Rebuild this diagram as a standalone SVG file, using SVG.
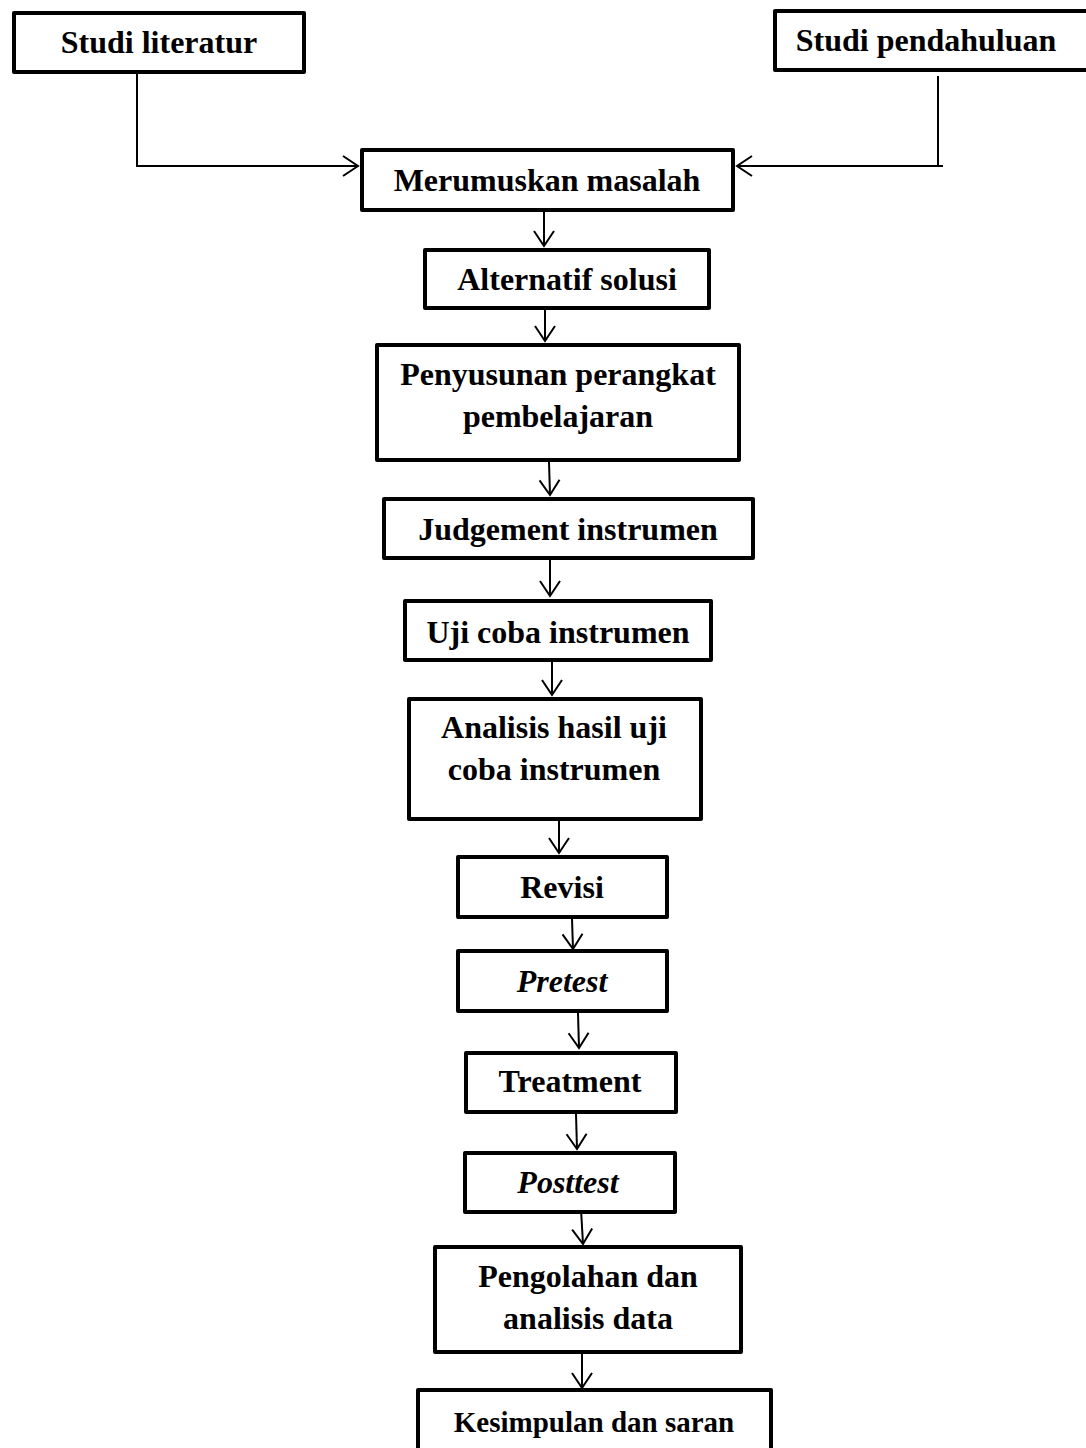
<svg xmlns="http://www.w3.org/2000/svg" width="1086" height="1448" viewBox="0 0 1086 1448">
<style>
.box{fill:#fff;stroke:#000;stroke-width:4;stroke-linejoin:round}
.t{font-family:"Liberation Serif","Times New Roman",serif;font-weight:bold;font-size:32px;text-anchor:middle;fill:#000}
.it{font-style:italic}
.sm{font-size:29px}
.c{fill:none;stroke:#000;stroke-width:2}
</style>
<defs>
<marker id="arr" markerUnits="userSpaceOnUse" viewBox="-17 -12 19 24" refX="0" refY="0" markerWidth="19" markerHeight="24" orient="auto" overflow="visible">
<path d="M-15,-10 L0,0 L-15,10" fill="none" stroke="#000" stroke-width="2"/>
</marker>
</defs>
<rect width="1086" height="1448" fill="#fff"/>
<g id="connectors">
<path class="c" d="M137,74 V166 H358" marker-end="url(#arr)"/>
<path class="c" d="M938,76 V166 M943,166 H737" marker-end="url(#arr)"/>
<path class="c" d="M544,212 L544,246" marker-end="url(#arr)"/>
<path class="c" d="M545,310 L545,341" marker-end="url(#arr)"/>
<path class="c" d="M549,462 L550,495" marker-end="url(#arr)"/>
<path class="c" d="M550,560 L550,596" marker-end="url(#arr)"/>
<path class="c" d="M552,662 L552,695" marker-end="url(#arr)"/>
<path class="c" d="M559,821 L559,853" marker-end="url(#arr)"/>
<path class="c" d="M572,919 L573,949" marker-end="url(#arr)"/>
<path class="c" d="M578,1013 L579,1048" marker-end="url(#arr)"/>
<path class="c" d="M576,1114 L577,1149" marker-end="url(#arr)"/>
<path class="c" d="M581,1209 L583,1244" marker-end="url(#arr)"/>
<path class="c" d="M582,1354 L582,1388" marker-end="url(#arr)"/>
</g>
<g id="studi-literatur"><rect class="box" x="14" y="13" width="290" height="59"/><text class="t" x="159" y="53">Studi literatur</text></g>
<g id="studi-pendahuluan"><rect class="box" x="775" y="11" width="320" height="59"/><text class="t" x="926" y="51">Studi pendahuluan</text></g>
<g id="merumuskan"><rect class="box" x="362" y="150" width="371" height="60"/><text class="t" x="547" y="191">Merumuskan masalah</text></g>
<g id="alternatif"><rect class="box" x="425" y="250" width="284" height="58"/><text class="t" x="567" y="290">Alternatif solusi</text></g>
<g id="penyusunan"><rect class="box" x="377" y="345" width="362" height="115"/><text class="t" x="558" y="385">Penyusunan perangkat</text><text class="t" x="558" y="427">pembelajaran</text></g>
<g id="judgement"><rect class="box" x="384" y="499" width="369" height="59"/><text class="t" x="568" y="540">Judgement instrumen</text></g>
<g id="uji-coba"><rect class="box" x="405" y="601" width="306" height="59"/><text class="t" x="558" y="643">Uji coba instrumen</text></g>
<g id="analisis"><rect class="box" x="409" y="699" width="292" height="120"/><text class="t" x="554" y="738">Analisis hasil uji</text><text class="t" x="554" y="780">coba instrumen</text></g>
<g id="revisi"><rect class="box" x="458" y="857" width="209" height="60"/><text class="t" x="562" y="898">Revisi</text></g>
<g id="pretest"><rect class="box" x="458" y="951" width="209" height="60"/><text class="t it" x="562" y="992">Pretest</text></g>
<g id="treatment"><rect class="box" x="466" y="1053" width="210" height="59"/><text class="t" x="570" y="1092">Treatment</text></g>
<g id="posttest"><rect class="box" x="465" y="1153" width="210" height="59"/><text class="t it" x="568" y="1193">Posttest</text></g>
<g id="pengolahan"><rect class="box" x="435" y="1247" width="306" height="105"/><text class="t" x="588" y="1287">Pengolahan dan</text><text class="t" x="588" y="1329">analisis data</text></g>
<g id="kesimpulan"><rect class="box" x="418" y="1390" width="353" height="80"/><text class="t sm" x="594" y="1432">Kesimpulan dan saran</text></g>
</svg>
